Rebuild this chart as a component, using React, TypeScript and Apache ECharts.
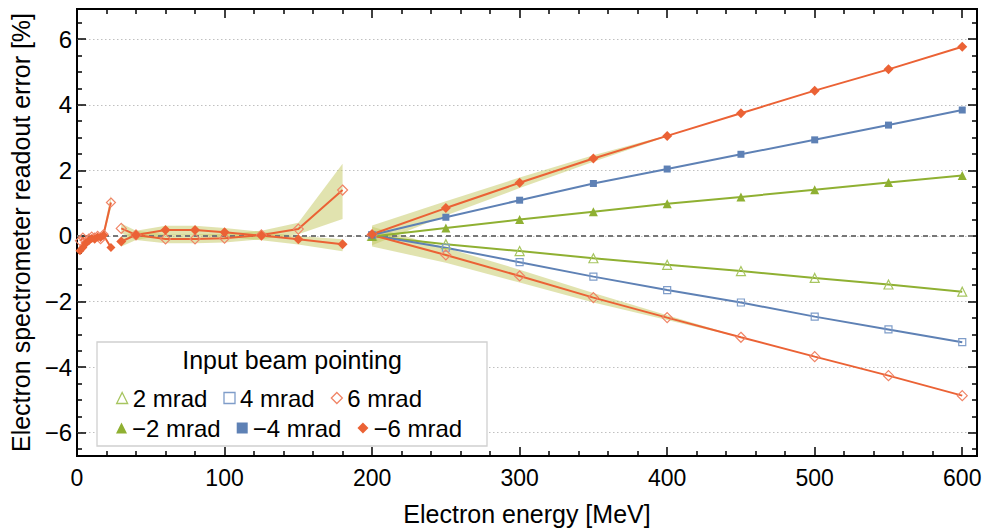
import React, { useEffect, useRef } from 'react';
import * as echarts from 'echarts';

// ---------- data ----------
const energyLow = [2, 4, 6, 8, 10, 12, 14, 16, 18, 23];
const pos6Low = [-0.15, -0.05, -0.2, -0.08, -0.02, -0.05, 0.0, -0.1, 0.05, 1.02];
const neg6Low = [-0.45, -0.35, -0.22, -0.15, -0.08, -0.1, -0.03, -0.05, 0.02, -0.35];

const energyMid = [30, 40, 60, 80, 100, 125, 150, 180];
const pos6Mid = [0.23, 0.03, -0.09, -0.09, -0.07, 0.03, 0.21, 1.4];
const neg6Mid = [-0.17, 0.03, 0.18, 0.18, 0.11, 0.01, -0.1, -0.25];

const energyHigh = [200, 250, 300, 350, 400, 450, 500, 550, 600];
const pos2 = [0.0, -0.25, -0.46, -0.68, -0.88, -1.07, -1.28, -1.48, -1.7];
const pos4 = [0.02, -0.36, -0.8, -1.24, -1.65, -2.03, -2.46, -2.85, -3.24];
const pos6 = [0.03, -0.58, -1.22, -1.88, -2.49, -3.09, -3.68, -4.26, -4.87];
const neg2 = [-0.02, 0.24, 0.5, 0.74, 0.98, 1.19, 1.41, 1.63, 1.84];
const neg4 = [0.03, 0.57, 1.09, 1.6, 2.04, 2.49, 2.93, 3.38, 3.84];
const neg6 = [0.05, 0.85, 1.62, 2.36, 3.05, 3.74, 4.43, 5.08, 5.77];

// uncertainty bands: energy, lower, upper
const bandLowE = [16, 18, 23];
const bandLowLo = [-0.12, -0.06, 0.85];
const bandLowHi = [0.08, 0.14, 1.25];
const bandMidPosLo = [0.08, -0.12, -0.22, -0.22, -0.2, -0.1, 0.05, 0.52];
const bandMidPosHi = [0.38, 0.16, 0.05, 0.05, 0.06, 0.16, 0.4, 2.2];
const bandMidNegLo = [-0.32, -0.12, 0.04, 0.04, -0.03, -0.13, -0.26, -0.47];
const bandMidNegHi = [-0.04, 0.16, 0.31, 0.31, 0.24, 0.13, 0.0, -0.1];
const bandHighNegE = [200, 250, 300, 350, 400];
const bandHighNegLo = [-0.28, 0.62, 1.46, 2.26, 3.03];
const bandHighNegHi = [0.32, 1.06, 1.78, 2.46, 3.07];
const bandHighPosE = [200, 250, 300, 350, 400, 450];
const bandHighPosLo = [-0.32, -0.82, -1.42, -2.03, -2.56, -3.1];
const bandHighPosHi = [0.28, -0.36, -1.03, -1.74, -2.42, -3.08];

// ticks
const yMajorTicks = [-6, -4, -2, 0, 2, 4, 6];
const yMinorTicks = [-6.5, -5.5, -5, -4.5, -3.5, -3, -2.5, -1.5, -1, -0.5, 0.5, 1, 1.5, 2.5, 3, 3.5, 4.5, 5, 5.5, 6.5];
const xMinorTicks = [20, 40, 60, 80, 120, 140, 160, 180, 220, 240, 260, 280, 320, 340, 360, 380, 420, 440, 460, 480, 520, 540, 560, 580];

const legendRow1 = ['2 mrad', '4 mrad', '6 mrad'];
const legendRow2 = ['\u22122 mrad', '\u22124 mrad', '\u22126 mrad'];

// ---------- styles ----------
const BLUE = '#5E81B5';
const GREEN = '#8FB032';
const ORANGE = '#EB6235';
const BLUE_L = '#7F9DC9';
const GREEN_L = '#A7C560';
const ORANGE_L = '#F08466';
const BAND = 'rgba(196, 200, 96, 0.5)';
const FONT = '"Liberation Sans", Arial, Helvetica, sans-serif';

function pts(xs: number[], ys: number[]) {
  return xs.map((x, i) => [x, ys[i]]);
}

function bandSeries(xs: number[], lo: number[], hi: number[]) {
  return {
    type: 'custom',
    xAxisIndex: 0,
    yAxisIndex: 0,
    z: 1,
    silent: true,
    data: xs.map((x, i) => [x, lo[i], hi[i]]),
    encode: { x: 0, y: [1, 2] },
    renderItem: (params: any, api: any) => {
      if (params.dataIndex !== 0) return null;
      const upper = xs.map((x, i) => api.coord([x, hi[i]]));
      const lower = xs.map((x, i) => api.coord([x, lo[i]])).reverse();
      return {
        type: 'polygon',
        shape: { points: upper.concat(lower) },
        style: { fill: BAND, stroke: 'none' },
      };
    },
  };
}

function lineSeries(
  name: string,
  xs: number[],
  ys: number[],
  color: string,
  symbol: string,
  size: number,
  hollowOutline: string | null
) {
  return {
    type: 'line',
    name,
    xAxisIndex: 0,
    yAxisIndex: 0,
    data: pts(xs, ys),
    symbol,
    symbolSize: size,
    showSymbol: true,
    z: 3,
    silent: true,
    lineStyle: { color, width: 2 },
    itemStyle: hollowOutline
      ? { color: 'rgba(255,255,255,0)', borderColor: hollowOutline, borderWidth: 1.2 }
      : { color, borderWidth: 0 },
    emphasis: { disabled: true },
  };
}

const legendIcons: Record<string, any> = {
  '2 mrad': { icon: 'triangle', itemStyle: { color: 'rgba(255,255,255,0)', borderColor: GREEN_L, borderWidth: 1.3 } },
  '4 mrad': { icon: 'rect', itemStyle: { color: 'rgba(255,255,255,0)', borderColor: BLUE_L, borderWidth: 1.3 } },
  '6 mrad': { icon: 'diamond', itemStyle: { color: 'rgba(255,255,255,0)', borderColor: ORANGE_L, borderWidth: 1.3 } },
  '\u22122 mrad': { icon: 'triangle', itemStyle: { color: GREEN, borderWidth: 0 } },
  '\u22124 mrad': { icon: 'rect', itemStyle: { color: BLUE, borderWidth: 0 } },
  '\u22126 mrad': { icon: 'diamond', itemStyle: { color: ORANGE, borderWidth: 0 } },
};

function legendOf(names: string[], top: number) {
  return {
    data: names.map((n) => ({ name: n, ...legendIcons[n] })),
    left: 111,
    top,
    orient: 'horizontal',
    itemWidth: 11,
    itemHeight: 11,
    itemGap: 16,
    selectedMode: false,
    z: 6,
    textStyle: { fontSize: 24, color: '#000', fontFamily: FONT },
  };
}

const tickLabel = (v: number) => (v < 0 ? '\u2212' + Math.abs(v) : String(v));

export default function App() {
  const ref = useRef<HTMLDivElement>(null);
  useEffect(() => {
    document.body.style.margin = '0';
    const chart = echarts.init(ref.current!, null, { renderer: 'svg' });
    const xRange = { type: 'value', min: 0, max: 610 };
    const yRange = { type: 'value', min: -6.71, max: 6.92 };
    const noLine = { show: false, onZero: false };
    const tickBase = { show: true, inside: true, lineStyle: { color: '#000', width: 1.5 } };
    const option: any = {
      animation: false,
      textStyle: { fontFamily: FONT },
      grid: {
        left: 75,
        right: 8,
        top: 9,
        bottom: 75,
        show: true,
        borderColor: '#000',
        borderWidth: 2,
        backgroundColor: 'transparent',
      },
      xAxis: [
        {
          ...xRange,
          position: 'bottom',
          interval: 100,
          axisLine: noLine,
          axisTick: { ...tickBase, length: 9 },
          axisLabel: { fontSize: 23, color: '#000', margin: 10, showMaxLabel: false, fontFamily: FONT },
          splitLine: { show: false },
          name: 'Electron energy [MeV]',
          nameLocation: 'middle',
          nameGap: 45,
          nameTextStyle: { fontSize: 25, color: '#000', fontFamily: FONT },
        },
        {
          ...xRange,
          position: 'top',
          interval: 100,
          axisLine: noLine,
          axisTick: { ...tickBase, length: 9 },
          axisLabel: { show: false },
          splitLine: { show: false },
        },
        {
          ...xRange,
          position: 'bottom',
          axisLine: noLine,
          axisTick: { ...tickBase, length: 5, customValues: xMinorTicks },
          axisLabel: { show: false },
          splitLine: { show: false },
        },
        {
          ...xRange,
          position: 'top',
          axisLine: noLine,
          axisTick: { ...tickBase, length: 5, customValues: xMinorTicks },
          axisLabel: { show: false },
          splitLine: { show: false },
        },
      ],
      yAxis: [
        {
          ...yRange,
          position: 'left',
          splitNumber: 7,
          minInterval: 2,
          maxInterval: 2,
          axisLine: noLine,
          axisTick: { ...tickBase, length: 9, customValues: yMajorTicks },
          axisLabel: {
            fontSize: 24,
            color: '#000',
            margin: 5,
            customValues: yMajorTicks,
            formatter: tickLabel,
            fontFamily: FONT,
          },
          splitLine: { show: true, lineStyle: { color: '#c0c0c0', type: [1.5, 2.5], width: 1 } },
          name: 'Electron spectrometer readout error [%]',
          nameLocation: 'middle',
          nameGap: 44,
          nameTextStyle: { fontSize: 25, color: '#000', fontFamily: FONT },
        },
        {
          ...yRange,
          position: 'right',
          axisLine: noLine,
          axisTick: { ...tickBase, length: 9, customValues: yMajorTicks },
          axisLabel: { show: false },
          splitLine: { show: false },
        },
        {
          ...yRange,
          position: 'left',
          axisLine: noLine,
          axisTick: { ...tickBase, length: 5, customValues: yMinorTicks },
          axisLabel: { show: false },
          splitLine: { show: false },
        },
        {
          ...yRange,
          position: 'right',
          axisLine: noLine,
          axisTick: { ...tickBase, length: 5, customValues: yMinorTicks },
          axisLabel: { show: false },
          splitLine: { show: false },
        },
      ],
      legend: [legendOf(legendRow1, 381), legendOf(legendRow2, 411)],
      graphic: [
        {
          type: 'rect',
          z: 5,
          shape: { x: 97, y: 342, width: 390, height: 104 },
          style: { fill: '#fff', stroke: '#d0d0d0', lineWidth: 1.3 },
          silent: true,
        },
        {
          type: 'text',
          z: 6,
          x: 292,
          y: 360,
          style: {
            text: 'Input beam pointing',
            fill: '#000',
            font: `25px ${FONT}`,
            textAlign: 'center',
            textVerticalAlign: 'middle',
          },
          silent: true,
        },
      ],
      series: [
        bandSeries(bandLowE, bandLowLo, bandLowHi),
        bandSeries(energyMid, bandMidPosLo, bandMidPosHi),
        bandSeries(energyMid, bandMidNegLo, bandMidNegHi),
        bandSeries(bandHighNegE, bandHighNegLo, bandHighNegHi),
        bandSeries(bandHighPosE, bandHighPosLo, bandHighPosHi),
        {
          type: 'line',
          name: 'zero',
          data: [
            [0, 0],
            [610, 0],
          ],
          symbol: 'none',
          z: 2,
          silent: true,
          lineStyle: { color: '#777777', type: [5, 4], width: 2 },
        },
        lineSeries('2 mrad', energyHigh, pos2, GREEN, 'triangle', 9, GREEN_L),
        lineSeries('4 mrad', energyHigh, pos4, BLUE, 'rect', 7, BLUE_L),
        lineSeries('6 mrad', energyHigh, pos6, ORANGE, 'diamond', 10, ORANGE_L),
        lineSeries('6 mrad', energyMid, pos6Mid, ORANGE, 'diamond', 10, ORANGE_L),
        lineSeries('6 mrad', energyLow, pos6Low, ORANGE, 'diamond', 9, ORANGE_L),
        lineSeries('\u22122 mrad', energyHigh, neg2, GREEN, 'triangle', 9, null),
        lineSeries('\u22124 mrad', energyHigh, neg4, BLUE, 'rect', 7, null),
        lineSeries('\u22126 mrad', energyHigh, neg6, ORANGE, 'diamond', 10, null),
        lineSeries('\u22126 mrad', energyMid, neg6Mid, ORANGE, 'diamond', 10, null),
        lineSeries('\u22126 mrad', energyLow, neg6Low, ORANGE, 'diamond', 9, null),
      ],
    };
    chart.setOption(option);
    return () => chart.dispose();
  }, []);
  return <div ref={ref} style={{ width: 985, height: 531, position: 'absolute', left: 0, top: 0 }} />;
}
